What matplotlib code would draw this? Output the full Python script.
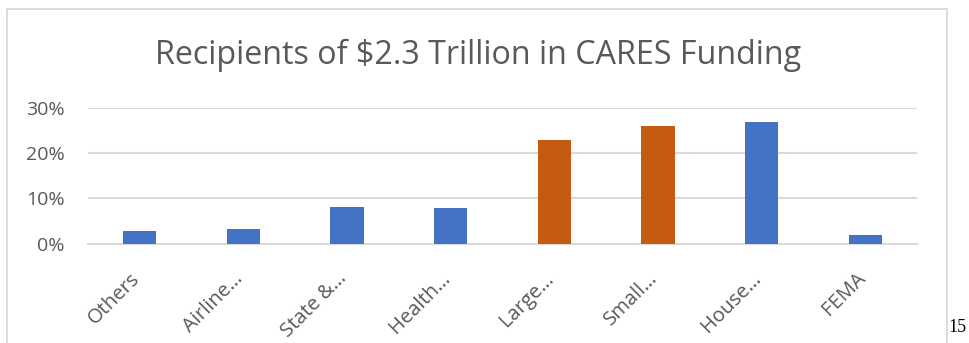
import matplotlib.pyplot as plt
from matplotlib.patches import Rectangle
from matplotlib.ticker import PercentFormatter
from matplotlib.transforms import ScaledTranslation

# data
categories = ["Others", "Airline…", "State &…", "Health…", "Large…", "Small…", "House…", "FEMA"]
shares = [0.028, 0.032, 0.08, 0.079, 0.229, 0.26, 0.269, 0.019]
highlight = [False, False, False, False, True, True, False, False]
yticks = [0, 0.1, 0.2, 0.3]

BLUE = "#4472C4"
ORANGE = "#C55A11"
GREY_TXT = "#595959"
GRID = "#D9D9D9"

plt.rcParams["font.family"] = ["Open Sans", "DejaVu Sans"]

fig = plt.figure(figsize=(9.69, 3.43), dpi=100)
W, H = 969, 343

# chart frame
fig.patches.append(Rectangle((7 / W, -0.1), (947 - 7) / W, (343 - 9) / H + 0.1,
                             transform=fig.transFigure, fill=False,
                             edgecolor=GRID, linewidth=1.3))

ax = fig.add_axes([88 / W, (343 - 243.7) / H, 829 / W, 136 / H])
colors = [ORANGE if h else BLUE for h in highlight]
x = range(len(categories))
ax.bar(x, shares, width=0.32, color=colors, zorder=3)

ax.set_xlim(-0.5, len(categories) - 0.5)
ax.set_ylim(0, 0.3)
ax.set_yticks(yticks)
ax.yaxis.set_major_formatter(PercentFormatter(1.0, decimals=0))
ax.grid(axis="y", color=GRID, linewidth=1.5, zorder=0)
ax.set_axisbelow(True)
for s in ["top", "right", "left"]:
    ax.spines[s].set_visible(False)
ax.spines["bottom"].set_color(GRID)
ax.spines["bottom"].set_linewidth(1.5)
ax.tick_params(axis="both", length=0, colors=GREY_TXT, labelsize=14)
ax.tick_params(axis="y", pad=17)
ax.set_xticks(list(x))
ax.set_xticklabels(categories, rotation=45, ha="right", va="center",
                   rotation_mode="anchor", color=GREY_TXT, fontsize=14.5)
ax.tick_params(axis="x", pad=23)
shift = ScaledTranslation(-3 / 100, 0, fig.dpi_scale_trans)
for lbl in ax.get_xticklabels():
    lbl.set_transform(lbl.get_transform() + shift)

fig.text(478 / W, 1 - 55 / H, "Recipients of $2.3 Trillion in CARES Funding",
         ha="center", va="center", fontsize=23.2, color=GREY_TXT)

# page number
fig.text(948 / W, 1 - 328 / H, "15", ha="left", va="center",
         fontsize=13, family="Liberation Serif", color="black")

fig.savefig("out.png", dpi=100)
